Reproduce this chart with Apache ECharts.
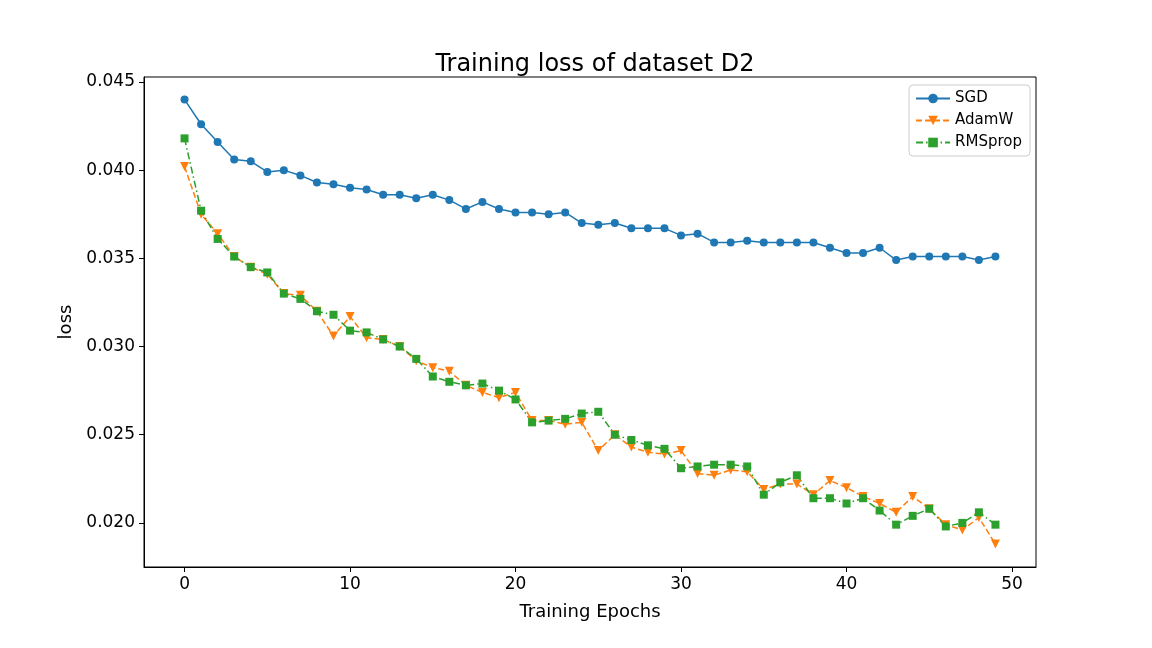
<!DOCTYPE html>
<html>
<head>
<meta charset="utf-8">
<script src="https://cdn.jsdelivr.net/npm/echarts@6/dist/echarts.min.js"></script>
<style>html,body{margin:0;padding:0;background:#fff}#chart-container{width:1152px;height:648px}</style>
</head>
<body>
<div id="chart-container"></div>
<script>
var epochs = [];
for (var i = 0; i < 50; i++) epochs.push(i);
var sgd = [0.0440, 0.0426, 0.0416, 0.0406, 0.0405, 0.0399, 0.0400, 0.0397, 0.0393, 0.0392,
  0.0390, 0.0389, 0.0386, 0.0386, 0.0384, 0.0386, 0.0383, 0.0378, 0.0382, 0.0378,
  0.0376, 0.0376, 0.0375, 0.0376, 0.0370, 0.0369, 0.0370, 0.0367, 0.0367, 0.0367,
  0.0363, 0.0364, 0.0359, 0.0359, 0.0360, 0.0359, 0.0359, 0.0359, 0.0359, 0.0356,
  0.0353, 0.0353, 0.0356, 0.0349, 0.0351, 0.0351, 0.0351, 0.0351, 0.0349, 0.0351];
var adamw = [0.0402, 0.0375, 0.0364, 0.0351, 0.0345, 0.0341, 0.0330, 0.0329, 0.0320, 0.0306,
  0.0317, 0.0305, 0.0304, 0.0300, 0.0292, 0.0288, 0.0286, 0.0278, 0.0274, 0.0271,
  0.0274, 0.0258, 0.0258, 0.0256, 0.0257, 0.0241, 0.0250, 0.0243, 0.0240, 0.0239,
  0.0241, 0.0228, 0.0227, 0.0230, 0.0229, 0.0219, 0.0222, 0.0222, 0.0216, 0.0224,
  0.0220, 0.0215, 0.0211, 0.0206, 0.0215, 0.0208, 0.0199, 0.0196, 0.0203, 0.0188];
var rmsprop = [0.0418, 0.0377, 0.0361, 0.0351, 0.0345, 0.0342, 0.0330, 0.0327, 0.0320, 0.0318,
  0.0309, 0.0308, 0.0304, 0.0300, 0.0293, 0.0283, 0.0280, 0.0278, 0.0279, 0.0275,
  0.0270, 0.0257, 0.0258, 0.0259, 0.0262, 0.0263, 0.0250, 0.0247, 0.0244, 0.0242,
  0.0231, 0.0232, 0.0233, 0.0233, 0.0232, 0.0216, 0.0223, 0.0227, 0.0214, 0.0214,
  0.0211, 0.0214, 0.0207, 0.0199, 0.0204, 0.0208, 0.0198, 0.0200, 0.0206, 0.0199];
var xTicks = [0, 10, 20, 30, 40, 50];
var yTicks = [0.020, 0.025, 0.030, 0.035, 0.040, 0.045];

function pairs(arr) {
  return arr.map(function (v, i) { return [epochs[i], v]; });
}

var myChart = echarts.init(document.getElementById("chart-container"), null, { renderer: "canvas" });
var font = "DejaVu Sans";
var option = {
  animation: false,
  textStyle: { fontFamily: font },
  title: {
    text: "Training loss of dataset D2",
    left: 590, top: 48, textAlign: "center",
    textStyle: { fontSize: 24, fontWeight: "normal", color: "#000", fontFamily: font }
  },
  legend: {
    right: 122, top: 85, orient: "vertical", itemGap: 7,
    itemWidth: 34, itemHeight: 12,
    borderColor: "#ccc", borderWidth: 1, borderRadius: 4, padding: [6, 8, 6, 6],
    textStyle: { fontSize: 15, color: "#000", fontFamily: font },
    data: ["SGD", "AdamW", "RMSprop"]
  },
  grid: { left: 144, right: 116, top: 77, bottom: 81, show: true, borderColor: "#000", borderWidth: 1 },
  xAxis: {
    type: "value", min: -2.45, max: 51.45,
    name: "Training Epochs", nameLocation: "middle", nameGap: 36,
    nameTextStyle: { fontSize: 18, color: "#000" },
    axisLine: { onZero: false, lineStyle: { color: "#000" } },
    axisTick: { customValues: xTicks, length: 5, lineStyle: { color: "#000" } },
    axisLabel: { customValues: xTicks, fontSize: 17, color: "#000", margin: 9 },
    splitLine: { show: false }
  },
  yAxis: {
    type: "value", min: 0.0175, max: 0.04528,
    name: "loss", nameLocation: "middle", nameGap: 68,
    nameTextStyle: { fontSize: 18, color: "#000" },
    axisLine: { show: true, onZero: false, lineStyle: { color: "#000" } },
    axisTick: { show: true, customValues: yTicks, length: 5, lineStyle: { color: "#000" } },
    axisLabel: { customValues: yTicks, fontSize: 17, color: "#000", margin: 9,
      formatter: function (v) { return v.toFixed(3); } },
    splitLine: { show: false }
  },
  series: [
    { name: "SGD", type: "line", data: pairs(sgd), symbol: "circle", symbolSize: 8,
      itemStyle: { color: "#1f77b4" }, lineStyle: { width: 1.5, color: "#1f77b4" } },
    { name: "AdamW", type: "line", data: pairs(adamw), symbol: "triangle", symbolRotate: 180, symbolSize: 9,
      itemStyle: { color: "#ff7f0e" }, lineStyle: { width: 1.5, color: "#ff7f0e", type: [6, 3] } },
    { name: "RMSprop", type: "line", data: pairs(rmsprop), symbol: "rect", symbolSize: 8,
      itemStyle: { color: "#2ca02c" }, lineStyle: { width: 1.5, color: "#2ca02c", type: [7, 3, 1.5, 3] } }
  ]
};
myChart.setOption(option);
window.addEventListener("resize", myChart.resize);
</script>
</body>
</html>
